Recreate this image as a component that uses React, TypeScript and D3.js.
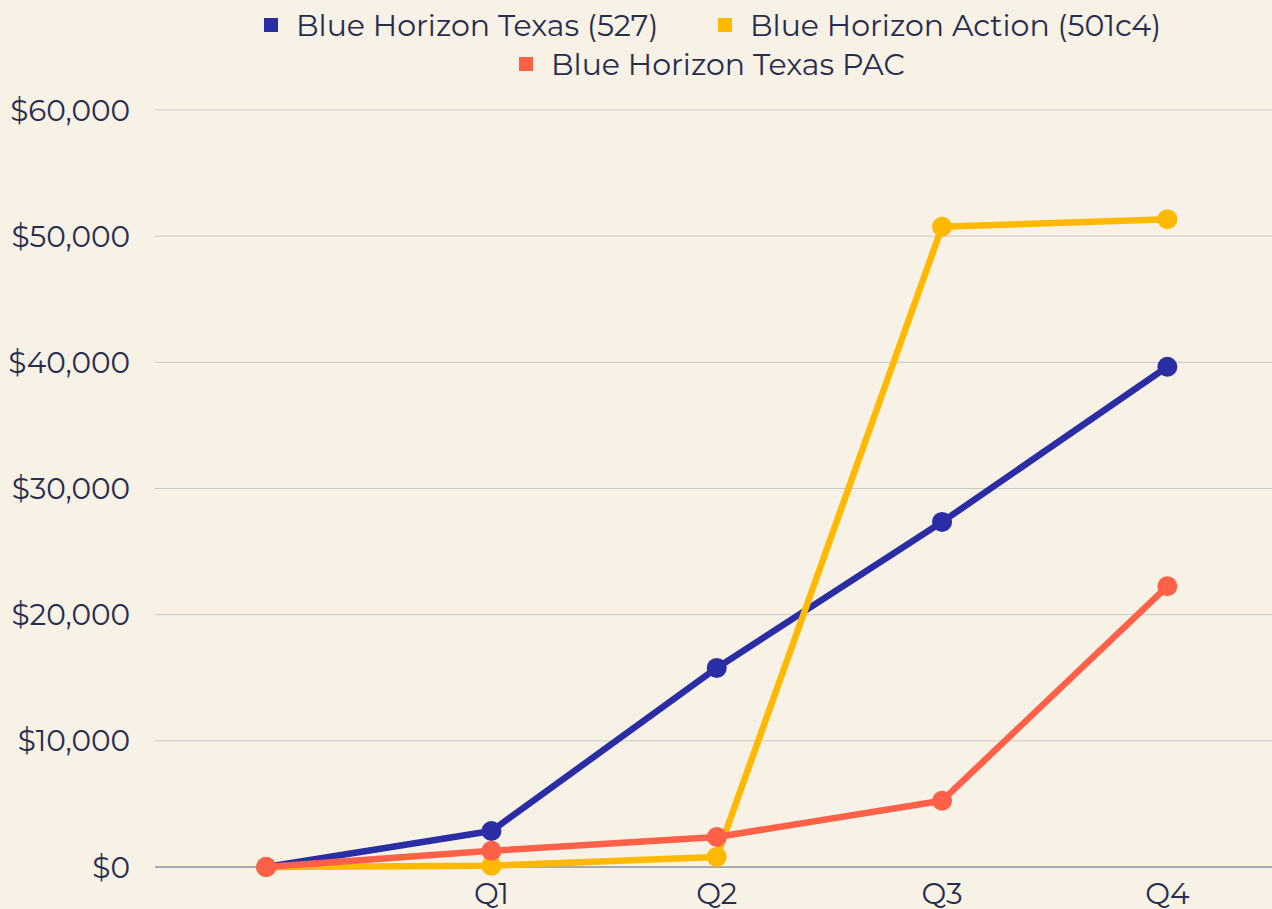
import { useEffect, useRef } from "react";
import * as d3 from "d3";

const quarters = ["", "Q1", "Q2", "Q3", "Q4"];
const texas527 = [0, 2850, 15780, 27350, 39650];
const action501c4 = [0, 100, 800, 50750, 51350];
const texasPac = [0, 1280, 2380, 5250, 22250];
const yTicks = [0, 10000, 20000, 30000, 40000, 50000, 60000];

const SERIES = [
  { name: "Blue Horizon Texas (527)", values: texas527, color: "#2a2da3" },
  { name: "Blue Horizon Action (501c4)", values: action501c4, color: "#ffb900" },
  { name: "Blue Horizon Texas PAC", values: texasPac, color: "#ff6148" },
];

const W = 1272;
const H = 909;
const MARGIN = { top: 110, right: 0, bottom: 42, left: 155 };
const FONT = "Montserrat, 'Open Sans', sans-serif";
const TEXT = "#272d4f";
const BG = "#f8f2e6";

export default function App() {
  const svgRef = useRef<SVGSVGElement>(null);

  useEffect(() => {
    document.body.style.margin = "0";
    document.body.style.background = BG;
    const svg = d3.select(svgRef.current);
    svg.selectAll("*").remove();

    const innerH = H - MARGIN.top - MARGIN.bottom;

    const x = d3.scaleBand<string>().domain(quarters).range([153.5, 1280]).padding(0);
    const cx = (q: string) => (x(q) ?? 0) + x.bandwidth() / 2;
    const y = d3.scaleLinear().domain([0, 60000]).range([MARGIN.top + innerH, MARGIN.top]);

    // grid
    svg
      .append("g")
      .selectAll("line")
      .data(yTicks.filter((t) => t > 0))
      .join("line")
      .attr("x1", MARGIN.left)
      .attr("x2", W)
      .attr("y1", (d) => y(d))
      .attr("y2", (d) => y(d))
      .attr("stroke", "#c9c9c6")
      .attr("stroke-width", 1);

    // x baseline
    svg
      .append("line")
      .attr("x1", MARGIN.left)
      .attr("x2", W)
      .attr("y1", y(0))
      .attr("y2", y(0))
      .attr("stroke", "#5d6275")
      .attr("stroke-width", 1.2);

    // y labels
    svg
      .append("g")
      .selectAll("text")
      .data(yTicks)
      .join("text")
      .attr("x", 130)
      .attr("y", (d) => y(d))
      .attr("dy", "0.36em")
      .attr("text-anchor", "end")
      .attr("font-family", FONT)
      .attr("font-size", 29.5)
      .attr("fill", TEXT)
      .text((d) => "$" + d3.format(",")(d));

    // x labels
    svg
      .append("g")
      .selectAll("text")
      .data(quarters)
      .join("text")
      .attr("x", (d) => cx(d))
      .attr("y", y(0) + 37)
      .attr("text-anchor", "middle")
      .attr("font-family", FONT)
      .attr("font-size", 29.5)
      .attr("fill", TEXT)
      .text((d) => d);

    const line = d3
      .line<number>()
      .x((_, i) => cx(quarters[i]))
      .y((d) => y(d));

    SERIES.forEach((s) => {
      const g = svg.append("g");
      g.append("path")
        .datum(s.values)
        .attr("fill", "none")
        .attr("stroke", s.color)
        .attr("stroke-width", 6.5)
        .attr("stroke-linejoin", "round")
        .attr("d", line);
      g.selectAll("circle")
        .data(s.values)
        .join("circle")
        .attr("cx", (_, i) => cx(quarters[i]))
        .attr("cy", (d) => y(d))
        .attr("r", 10)
        .attr("fill", s.color);
    });

    // legend
    const items = [
      { s: SERIES[0], x: 264, y: 25 },
      { s: SERIES[1], x: 718, y: 25 },
      { s: SERIES[2], x: 519, y: 64 },
    ];
    const legend = svg.append("g");
    items.forEach(({ s, x: lx, y: ly }) => {
      legend
        .append("rect")
        .attr("x", lx)
        .attr("y", ly - 7)
        .attr("width", 14)
        .attr("height", 14)
        .attr("fill", s.color);
      legend
        .append("text")
        .attr("x", lx + 32)
        .attr("y", ly)
        .attr("dy", "0.36em")
        .attr("font-family", FONT)
        .attr("font-size", 30)
        .attr("fill", TEXT)
        .text(s.name);
    });
  }, []);

  return (
    <svg
      ref={svgRef}
      width={W}
      height={H}
      style={{ display: "block", position: "absolute", left: 0, top: 0, background: BG }}
    />
  );
}
